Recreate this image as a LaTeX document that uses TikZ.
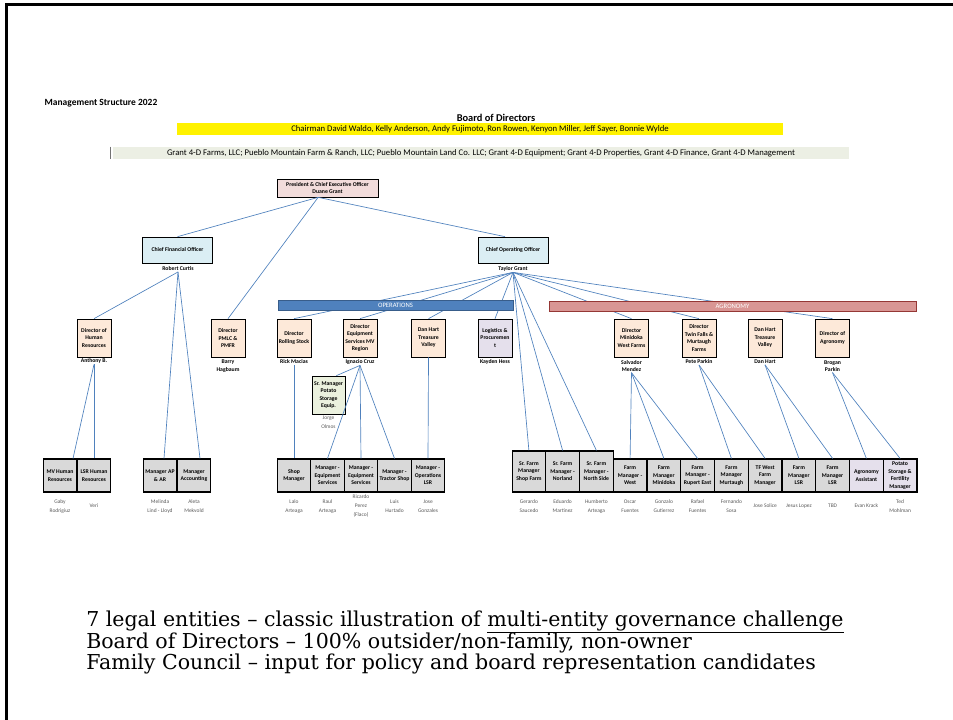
\documentclass[tikz,border=0pt]{standalone}
\usepackage{fontspec}
\usepackage{tikz}
\setmainfont{Liberation Serif}
\newfontfamily\chartfont{Carlito}
\newfontfamily\notefont{DejaVu Serif}
\newcommand{\orgfont}{\chartfont\fontsize{4.3}{5.6}\selectfont}
\newcommand{\staffont}{\chartfont\fontsize{4.1}{6.7}\selectfont}

\definecolor{peach}{HTML}{FDE9D9}
\definecolor{rose}{HTML}{F2DCDB}
\definecolor{iceblue}{HTML}{DBEEF4}
\definecolor{lowgray}{HTML}{D9D9D9}
\definecolor{lavender}{HTML}{E5E0EC}
\definecolor{palegreen}{HTML}{EBF1DE}
\definecolor{entgreen}{HTML}{ECEFE4}
\definecolor{linkblue}{HTML}{4F81BD}
\definecolor{opsline}{HTML}{385D8A}
\definecolor{agrofill}{HTML}{D99694}
\definecolor{agroline}{HTML}{953735}
\definecolor{staffgray}{HTML}{595959}

\tikzset{
  boxbase/.style={draw, line width=0.5pt, inner sep=0pt, align=center, font=\orgfont\bfseries},
  topbox/.style={boxbase, minimum width=52.5pt, minimum height=19.5pt},
  dirbox/.style={boxbase, fill=peach, minimum width=25.5pt, minimum height=28.5pt},
  lowbox/.style={boxbase, fill=lowgray, line width=0.8pt, minimum width=25.3pt, minimum height=24.75pt},
  srbox/.style={lowbox, minimum height=30.75pt},
  bossname/.style={font=\orgfont\bfseries, align=center, inner sep=0.5pt},
  staffname/.style={font=\staffont, text=staffgray, align=center, inner sep=0.5pt},
  link/.style={draw=linkblue, line width=0.5pt},
  bar/.style={inner sep=0pt, font=\chartfont\fontsize{6.5}{7}\selectfont},
  note/.style={font=\notefont\fontsize{15.4}{17}\selectfont, anchor=base west, inner sep=0pt}
}

\begin{document}
\begin{tikzpicture}[x=0.75pt,y=-0.75pt]
\useasboundingbox (0,0) rectangle (953,720);

% slide frame
\draw [line width=2.25pt] (6.5,720) -- (6.5,4.5) -- (953,4.5);

% heading and board
\node [font=\chartfont\bfseries\fontsize{7.1}{8}\selectfont] (title) at (101,103) {Management Structure 2022};
\node [font=\chartfont\bfseries\fontsize{7.8}{8}\selectfont] (boardhead) at (496,118) {Board of Directors};
\node [bar, fill=yellow, minimum width=454.5pt, minimum height=9pt] (board) at (480,129)
  {Chairman David Waldo, Kelly Anderson, Andy Fujimoto, Ron Rowen, Kenyon Miller, Jeff Sayer, Bonnie Wylde};
\node [bar, fill=entgreen, minimum width=552pt, minimum height=9pt] (entities) at (481,153)
  {Grant 4-D Farms, LLC; Pueblo Mountain Farm \& Ranch, LLC; Pueblo Mountain Land Co. LLC; Grant 4-D Equipment; Grant 4-D Properties, Grant 4-D Finance, Grant 4-D Management};
\draw [line width=1.1pt, black!55] ([xshift=-1.5pt]entities.north west) -- ([xshift=-1.5pt]entities.south west);

% officers
\node [boxbase, fill=rose, minimum width=75.75pt, minimum height=13.5pt] (ceo) at (327.5,188) {President \& Chief Executive Officer\\Duane Grant};
\node [topbox, fill=iceblue] (cfo) at (177.5,250) {Chief Financial Officer};
\node [topbox, fill=iceblue] (coo) at (513,250) {Chief Operating Officer};
\node [bossname] (rcurtis) at (178,269) {Robert Curtis};
\node [bossname] (tgrant) at (513,269) {Taylor Grant};

% directors
\node [dirbox] (hrdir) at (94,338) {Director of\\Human\\Resources};
\node [dirbox] (pmlc) at (228,338) {Director\\PMLC \&\\PMFR};
\node [dirbox] (rolling) at (294,338) {Director\\Rolling Stock};
\node [dirbox] (equip) at (360,338) {Director\\Equipment\\Services MV\\Region};
\node [dirbox] (dhops) at (428.5,338) {Dan Hart\\Treasure\\Valley};
\node [dirbox, fill=lavender] (logist) at (495,338) {Logistics \&\\Procuremen\\t};
\node [dirbox] (minidoka) at (631.5,338) {Director\\Minidoka\\West Farms};
\node [dirbox] (twinfalls) at (699,338) {Director\\Twin Falls \&\\Murtaugh\\Farms};
\node [dirbox] (dhagro) at (765,338) {Dan Hart\\Treasure\\Valley};
\node [dirbox] (agrodir) at (832.5,338) {Director of\\Agronomy};

\node [bossname] (anthony) at (94,361) {Anthony B.};
\node [bossname] (barry) at (228,366) {Barry\\Hagbaum};
\node [bossname] (rick) at (294,362) {Rick Macias};
\node [bossname] (ignacio) at (360,362) {Ignacio Cruz};
\node [bossname] (kayden) at (495,362) {Kayden Hess};
\node [bossname] (salvador) at (631.5,366) {Salvador\\Mendez};
\node [bossname] (pete) at (699,362) {Pete Parkin};
\node [bossname] (danhart) at (765,362) {Dan Hart};
\node [bossname] (brogan) at (832.5,366) {Brogan\\Parkin};

\node [dirbox, fill=palegreen, minimum width=24.75pt] (srmgr) at (328.5,395) {Sr. Manager\\Potato\\Storage\\Equip.};
\node [staffname] (jorge) at (328.5,422.5) {Jorge\\Olmos};

% managers
\node [lowbox] (mvhr) at (60,475.5) {MV Human\\Resources};
\node [lowbox] (lsrhr) at (94,475.5) {LSR Human\\Resources};
\node [lowbox] (apar) at (160,475.5) {Manager AP\\\& AR};
\node [lowbox] (acct) at (194,475.5) {Manager\\Accounting};
\node [lowbox] (shopmgr) at (294,475.5) {Shop\\Manager};
\node [lowbox] (eqsvcone) at (327.5,475.5) {Manager -\\Equipment\\Services};
\node [lowbox] (eqsvctwo) at (361,475.5) {Manager -\\Equipment\\Services};
\node [lowbox] (tractor) at (394.5,475.5) {Manager -\\Tractor Shop};
\node [lowbox] (opslsr) at (428,475.5) {Manager -\\Operations\\LSR};
\node [srbox] (shopfarm) at (528.9,471.5) {Sr. Farm\\Manager\\Shop Farm};
\node [srbox] (norland) at (562.6,471.5) {Sr. Farm\\Manager -\\Norland};
\node [srbox] (northside) at (596.4,471.5) {Sr. Farm\\Manager -\\North Side};
\node [lowbox] (west) at (630.1,475.5) {Farm\\Manager -\\West};
\node [lowbox] (minifarm) at (663.9,475.5) {Farm\\Manager\\Minidoka};
\node [lowbox] (rupert) at (697.6,475.5) {Farm\\Manager -\\Rupert East};
\node [lowbox] (murtaugh) at (731.4,475.5) {Farm\\Manager\\Murtaugh};
\node [lowbox] (tfwest) at (765.1,475.5) {TF West\\Farm\\Manager};
\node [lowbox] (lsrone) at (798.9,475.5) {Farm\\Manager\\LSR};
\node [lowbox] (lsrtwo) at (832.6,475.5) {Farm\\Manager\\LSR};
\node [lowbox, fill=lavender] (agasst) at (866.4,475.5) {Agronomy\\Assistant};
\node [lowbox, fill=lavender] (potato) at (900.1,475.5) {Potato\\Storage \&\\Fertility\\Manager};

\node [staffname] (gaby) at (60,506.5) {Gaby\\Rodrigiuz};
\node [staffname] (veri) at (94,506) {Veri};
\node [staffname] (melinda) at (160,506.5) {Melinda\\Lind - Lloyd};
\node [staffname] (aleta) at (194,506.5) {Aleta\\Mekvold};
\node [staffname] (lalo) at (294,506.5) {Lalo\\Arteaga};
\node [staffname] (raul) at (327.5,506.5) {Raul\\Arteaga};
\node [staffname] (ricardo) at (361,506) {Ricardo\\Perez\\(Flaco)};
\node [staffname] (luis) at (394.5,506.5) {Luis\\Hurtado};
\node [staffname] (jose) at (428,506.5) {Jose\\Gonzales};
\node [staffname] (gerardo) at (528.9,506.5) {Gerardo\\Saucedo};
\node [staffname] (eduardo) at (562.6,506.5) {Eduardo\\Martinez};
\node [staffname] (humberto) at (596.4,506.5) {Humberto\\Arteaga};
\node [staffname] (oscar) at (630.1,506.5) {Oscar\\Fuentes};
\node [staffname] (gonzalo) at (663.9,506.5) {Gonzalo\\Gutierrez};
\node [staffname] (rafael) at (697.6,506.5) {Rafael\\Fuentes};
\node [staffname] (fernando) at (731.4,506.5) {Fernando\\Sosa};
\node [staffname] (solice) at (765.1,506) {Jose Solice};
\node [staffname] (jesus) at (798.9,506) {Jesus Lopez};
\node [staffname] (tbd) at (832.6,506) {TBD};
\node [staffname] (evan) at (866.4,506) {Evan Krack};
\node [staffname] (ted) at (900.1,506.5) {Ted\\Mohlman};

% reporting lines
\draw [link] ([xshift=-7pt]ceo.south) -- (cfo.north);
\draw [link] ([xshift=-7pt]ceo.south) -- (pmlc.north);
\draw [link] ([xshift=-7pt]ceo.south) -- ([xshift=-6pt]coo.north);

\draw [link] (rcurtis.south) -- (hrdir.north);
\draw [link] (rcurtis.south) -- ([xshift=3pt]apar.north);
\draw [link] (rcurtis.south) -- ([xshift=4.5pt]acct.north);
\draw [link] (anthony.south) -- ([xshift=9.75pt]mvhr.north);
\draw [link] (anthony.south) -- (lsrhr.north);

\draw [link] (tgrant.south) -- (rolling.north);
\draw [link] (tgrant.south) -- (equip.north);
\draw [link] (tgrant.south) -- (dhops.north);
\draw [link] (tgrant.south) -- (logist.north);
\draw [link] (tgrant.south) -- (shopfarm.north);
\draw [link] (tgrant.south) -- (norland.north);
\draw [link] (tgrant.south) -- (northside.north);
\draw [link] (tgrant.south) -- (minidoka.north);
\draw [link] (tgrant.south) -- (twinfalls.north);
\draw [link] (tgrant.south) -- (agrodir.north);

\draw [link] (rick.south) -- (shopmgr.north);
\draw [link] (ignacio.south) -- ([xshift=-6.75pt]srmgr.north east);
\draw [link] (ignacio.south) -- (eqsvcone.north);
\draw [link] (ignacio.south) -- (eqsvctwo.north);
\draw [link] (ignacio.south) -- (tractor.north);
\draw [link] (dhops.south) -- (opslsr.north);

\draw [link] (salvador.south) -- (west.north);
\draw [link] (salvador.south) -- (minifarm.north);
\draw [link] (salvador.south) -- (rupert.north);
\draw [link] (pete.south) -- (murtaugh.north);
\draw [link] (pete.south) -- (tfwest.north);
\draw [link] (danhart.south) -- (lsrone.north);
\draw [link] (danhart.south) -- (lsrtwo.north);
\draw [link] (brogan.south) -- (agasst.north);
\draw [link] (brogan.south) -- (potato.north);

% division bars over the lines
\node [bar, draw=opsline, line width=0.6pt, fill=linkblue, text=white, minimum width=176.25pt, minimum height=7pt, font=\chartfont\fontsize{5}{6}\selectfont] (opsbar) at (395.5,305.5) {OPERATIONS};
\node [bar, draw=agroline, line width=0.6pt, fill=agrofill, text=white, minimum width=275.25pt, minimum height=7.5pt, font=\chartfont\fontsize{5}{6}\selectfont] (agrobar) at (732.5,306) {AGRONOMY};

% notes
\node [note] (noteone) at (86,626) {7 legal entities – classic illustration of \underline{multi-entity governance challenge}};
\node [note] (notetwo) at (86,648) {Board of Directors – 100\% outsider/non-family, non-owner};
\node [note] (notethree) at (86,669) {Family Council – input for policy and board representation candidates};

\end{tikzpicture}
\end{document}
